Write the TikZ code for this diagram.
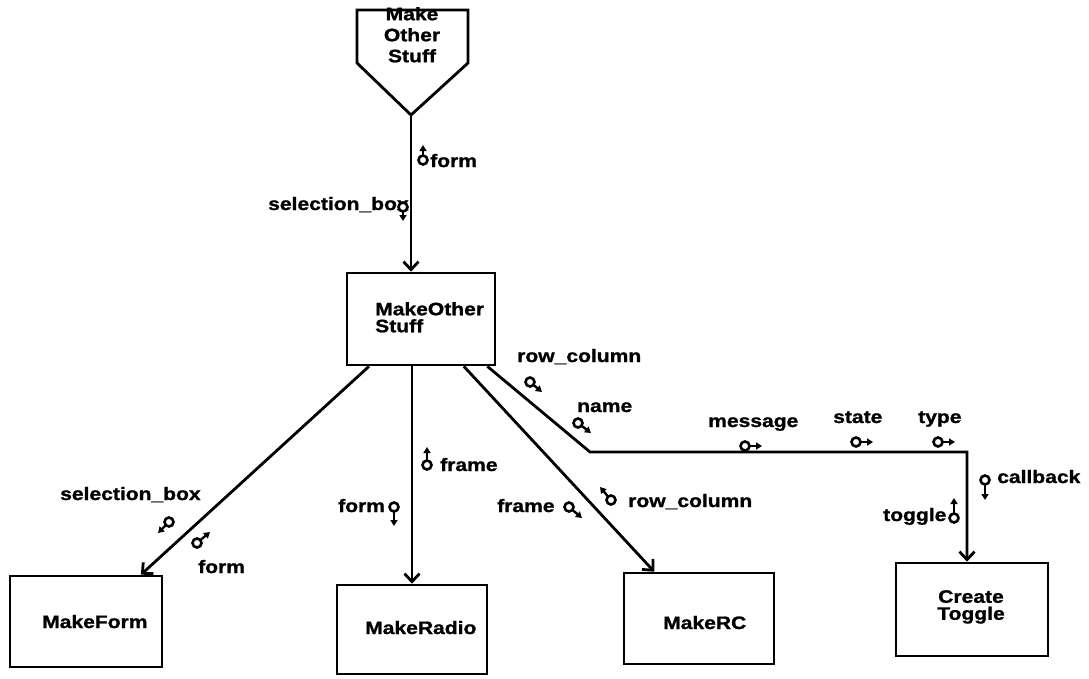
\documentclass[tikz,border=0pt]{standalone}
\usepackage{fontspec}
\setmainfont{Liberation Sans}[FakeStretch=1.17, BoldFeatures={FakeBold=1.2}]
\usetikzlibrary{arrows.meta,calc}
\tikzset{
  lbl/.style={font=\fontsize{18}{21}\selectfont\bfseries, inner sep=0pt},
  lbl2/.style={font=\fontsize{18}{17}\selectfont\bfseries, inner sep=0pt},
  box/.style={draw, line width=2.6pt, inner sep=0pt},
  conn/.style={line width=2.8pt},
  arr/.style={conn, -{Straight Barb[length=8pt,width=15pt]}},
  cplc/.style={line width=2.6pt, fill=white},
  cpla/.style={line width=2.4pt, -{Triangle[length=6pt,width=7pt]}},
}
\newcommand\cpl[4]{\draw[cpla] ($(#1,#2)!5pt!(#3,#4)$) -- (#3,#4); \draw[cplc] (#1,#2) circle[radius=4.5pt];}
\begin{document}
\begin{tikzpicture}[x=1pt,y=-1pt]
\useasboundingbox (0,0) rectangle (1089,678);
% top module (pentagon)
\draw[conn, line join=miter] (357,10) -- (468,10) -- (468,63) -- (411,115) -- (357,63) -- cycle;
\coordinate (tip) at (411,115);
\node[lbl, align=center, anchor=north] (topt) at (412,7) {Make\\Other\\Stuff};

% boxes
\node[box, minimum width=148pt, minimum height=92pt] (mos) at (421,319) {};
\node[lbl2, align=left, anchor=north west] (most) at (375,302) {MakeOther\\Stuff};
\node[box, minimum width=152pt, minimum height=91pt] (mf) at (86,621.5) {};
\node[lbl, anchor=base west] (mft) at (42,628) {MakeForm};
\node[box, minimum width=150pt, minimum height=89pt] (mr) at (412,629.5) {};
\node[lbl, anchor=base west] (mrt) at (365,634) {MakeRadio};
\node[box, minimum width=150pt, minimum height=91pt] (mrc) at (699,618.5) {};
\node[lbl, anchor=base west] (mrct) at (663,629) {MakeRC};
\node[box, minimum width=152pt, minimum height=93pt] (ct) at (972,609.5) {};
\node[lbl2, align=center, anchor=north] (ctt) at (971,590) {Create\\Toggle};

% connectors
\draw[arr] (tip) -- (tip |- mos.north);
\draw[arr] ($(mos.south west)!0.155!(mos.south east)$) -- ($(mf.north west)!0.855!(mf.north east)$);
\draw[arr] (mr.north |- mos.south) -- (mr.north);
\draw[arr] ($(mos.south west)!0.784!(mos.south east)$) -- ($(mrc.north west)!0.207!(mrc.north east)$);
\coordinate (b1) at (590,452);
\coordinate (b2) at (967,452);
\draw[arr, line join=miter] ($(mos.south west)!0.94!(mos.south east)$) -- (b1) -- (b2) -- (b2 |- ct.north);

% labels
\node[lbl, anchor=base west] (l1) at (430,167) {form};
\node[lbl, anchor=base west] (l2) at (268,210) {selection\_box};
\node[lbl, anchor=base west] (l3) at (517,362) {row\_column};
\node[lbl, anchor=base west] (l4) at (577,412) {name};
\node[lbl, anchor=base west] (l5) at (708,427) {message};
\node[lbl, anchor=base west] (l6) at (833,423) {state};
\node[lbl, anchor=base west] (l7) at (918,423) {type};
\node[lbl, anchor=base west] (l8) at (997,483) {callback};
\node[lbl, anchor=base west] (l9) at (883,521) {toggle};
\node[lbl, anchor=base west] (l10) at (60,500) {selection\_box};
\node[lbl, anchor=base west] (l11) at (198,573) {form};
\node[lbl, anchor=base west] (l12) at (440,471) {frame};
\node[lbl, anchor=base west] (l13) at (338,512) {form};
\node[lbl, anchor=base west] (l14) at (497,512) {frame};
\node[lbl, anchor=base west] (l15) at (628,507) {row\_column};

% data couples
\cpl{423}{160}{423}{145}
\cpl{403}{207}{403}{221}
\cpl{530}{382}{542}{392}
\cpl{578}{423}{591}{433}
\cpl{745}{446}{762}{446}
\cpl{856}{442}{873}{442}
\cpl{938}{442}{955}{442}
\cpl{985}{480}{985}{500}
\cpl{954}{518}{954}{498}
\cpl{169}{522}{158}{533}
\cpl{197}{543}{210}{532}
\cpl{427}{465}{427}{447}
\cpl{394}{507}{394}{526}
\cpl{569}{507}{582}{518}
\cpl{611}{500}{600}{487}
\end{tikzpicture}
\end{document}
